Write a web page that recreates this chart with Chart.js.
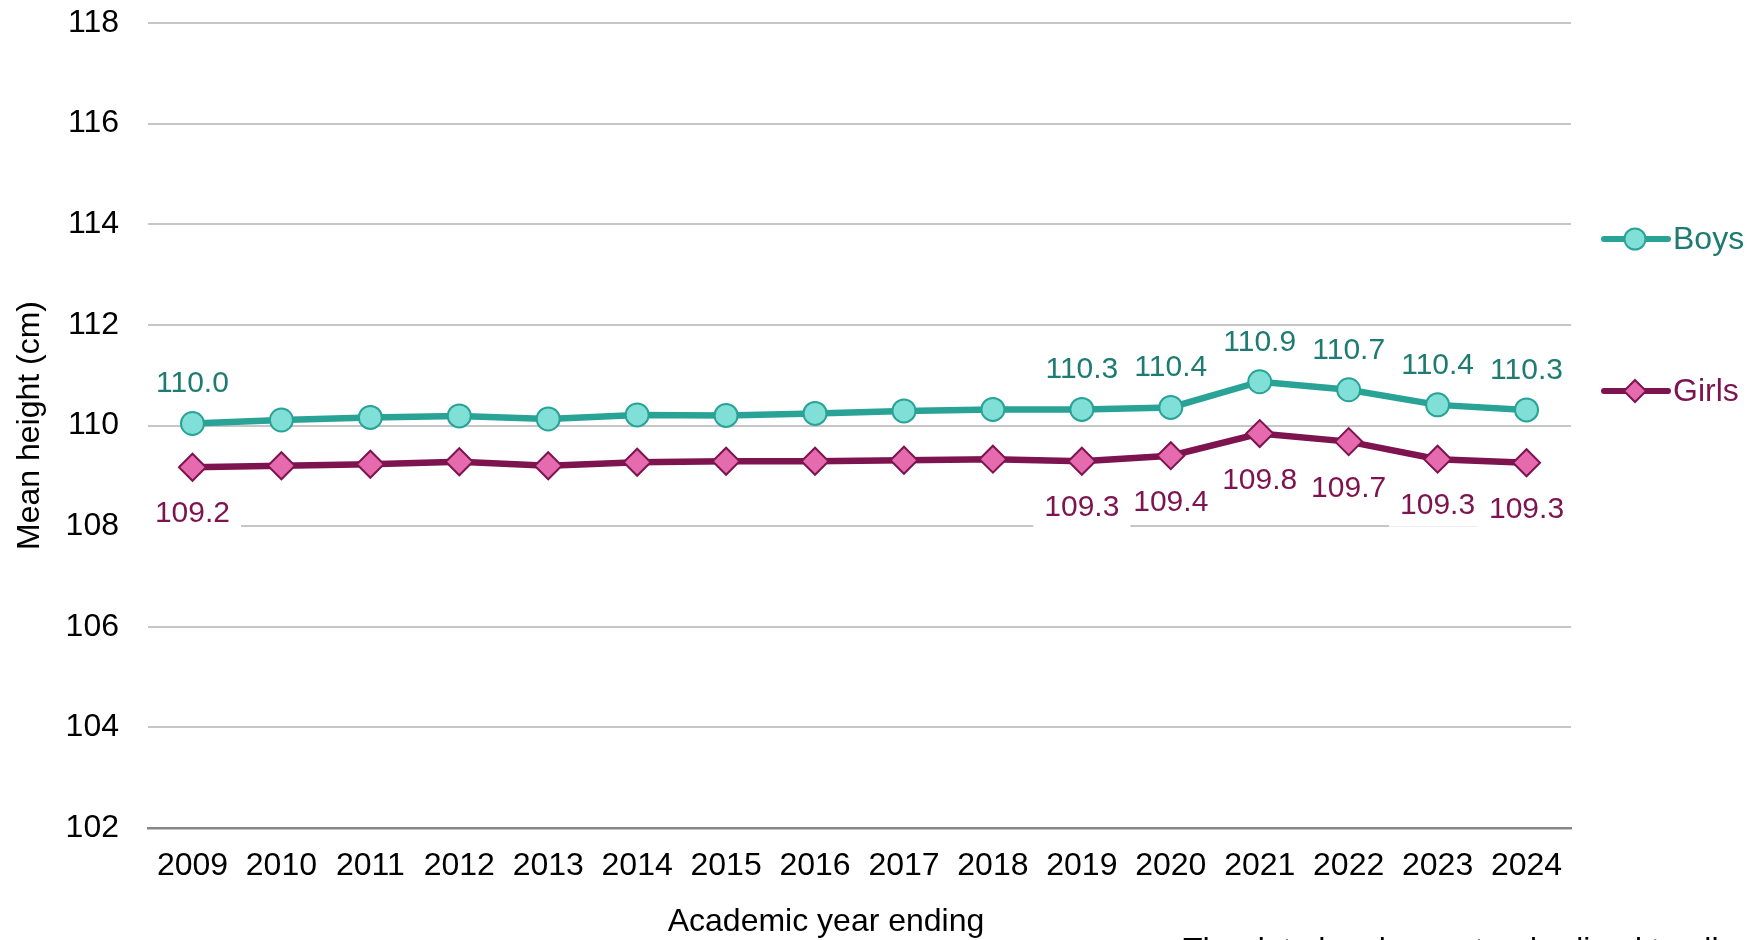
<!DOCTYPE html>
<html>
<head>
<meta charset="utf-8">
<script src="https://cdn.jsdelivr.net/npm/chart.js@4/dist/chart.umd.min.js"></script>
<style>
html,body{margin:0;padding:0;background:#fff;}
#wrap{width:1747px;height:940px;position:relative;}
</style>
</head>
<body>
<div id="wrap"><canvas id="c" width="1747" height="940"></canvas></div>
<script>
// ---- data ----
const years = ['2009','2010','2011','2012','2013','2014','2015','2016','2017','2018','2019','2020','2021','2022','2023','2024'];
const boys  = [110.04,110.11,110.16,110.19,110.13,110.21,110.20,110.24,110.29,110.32,110.32,110.36,110.87,110.71,110.41,110.31];
const girls = [109.17,109.20,109.23,109.28,109.20,109.27,109.29,109.29,109.31,109.33,109.29,109.40,109.84,109.68,109.33,109.26];
const labelledYears = ['2009','2019','2020','2021','2022','2023','2024'];
const seriesNames = ['Boys','Girls'];
const yTitle = 'Mean height (cm)';
const xTitle = 'Academic year ending';
const footnote = 'The data has been standardised to allow comparison';

const FONT = '"Liberation Sans", Arial, sans-serif';
const BOYS_LINE = '#28a396', BOYS_FILL = '#80e0d8', BOYS_TEXT = '#1d7b71';
const GIRLS_LINE = '#7d144f', GIRLS_FILL = '#e66aae', GIRLS_TEXT = '#7d144f';

const labelPlugin = {
  id: 'valueLabels',
  _items(chart) {
    const items = [];
    chart.data.datasets.forEach((ds, di) => {
      const meta = chart.getDatasetMeta(di);
      chart.data.labels.forEach((lab, i) => {
        if (!labelledYears.includes(lab)) return;
        const pt = meta.data[i];
        const above = ds.labelPos === 'above';
        const baseline = above ? pt.y - 31 : pt.y + 55;
        items.push({x: pt.x, baseline, text: ds.data[i].toFixed(1), color: ds.labelColor});
      });
    });
    return items;
  },
  beforeDatasetsDraw(chart) {
    const ctx = chart.ctx;
    ctx.save();
    ctx.font = '30px ' + FONT;
    this._items(chart).forEach(it => {
      const w = ctx.measureText(it.text).width;
      ctx.fillStyle = '#ffffff';
      ctx.fillRect(it.x - w / 2 - 11, it.baseline - 23, w + 22, 35.5);
    });
    ctx.restore();
  },
  afterDatasetsDraw(chart) {
    const ctx = chart.ctx;
    ctx.save();
    ctx.font = '30px ' + FONT;
    ctx.textAlign = 'center';
    ctx.textBaseline = 'alphabetic';
    this._items(chart).forEach(it => {
      ctx.fillStyle = it.color;
      ctx.fillText(it.text, it.x, it.baseline);
    });
    ctx.restore();
  }
};

const extrasPlugin = {
  id: 'extras',
  afterDraw(chart) {
    const ctx = chart.ctx;
    ctx.save();
    // x axis title
    ctx.font = '32px ' + FONT;
    ctx.fillStyle = '#000';
    ctx.textAlign = 'center';
    ctx.textBaseline = 'middle';
    ctx.fillText(xTitle, 826, 922);
    // cut-off footnote
    ctx.textAlign = 'left';
    ctx.textBaseline = 'alphabetic';
    ctx.fillText(footnote, 1183, 960);
    // legend
    const rows = [239, 391];
    chart.data.datasets.forEach((ds, di) => {
      const y = rows[di];
      ctx.strokeStyle = ds.borderColor;
      ctx.lineWidth = 6;
      ctx.lineCap = 'round';
      ctx.beginPath();
      ctx.moveTo(1604, y);
      ctx.lineTo(1668, y);
      ctx.stroke();
      ctx.fillStyle = ds.pointBackgroundColor;
      ctx.strokeStyle = ds.pointBorderColor;
      ctx.lineWidth = 2;
      ctx.beginPath();
      if (ds.pointStyle === 'circle') {
        ctx.arc(1635, y, 10.5, 0, Math.PI * 2);
      } else {
        const r = 11;
        ctx.moveTo(1635, y - r); ctx.lineTo(1635 + r, y);
        ctx.lineTo(1635, y + r); ctx.lineTo(1635 - r, y); ctx.closePath();
      }
      ctx.fill();
      ctx.stroke();
      ctx.font = '32px ' + FONT;
      ctx.fillStyle = ds.labelColor;
      ctx.textAlign = 'left';
      ctx.textBaseline = 'middle';
      ctx.fillText(ds.label, 1673, y + 1);
    });
    ctx.restore();
  }
};

new Chart(document.getElementById('c'), {
  type: 'line',
  data: {
    labels: years,
    datasets: [
      {
        label: seriesNames[0], data: boys,
        borderColor: BOYS_LINE, borderWidth: 6.5,
        pointStyle: 'circle', pointRadius: 11.5, pointHoverRadius: 11.5,
        pointBackgroundColor: BOYS_FILL, pointBorderColor: BOYS_LINE, pointBorderWidth: 2,
        labelColor: BOYS_TEXT, labelPos: 'above', tension: 0
      },
      {
        label: seriesNames[1], data: girls,
        borderColor: GIRLS_LINE, borderWidth: 6.5,
        pointStyle: 'rectRot', pointRadius: 13.5, pointHoverRadius: 13.5,
        pointBackgroundColor: GIRLS_FILL, pointBorderColor: GIRLS_LINE, pointBorderWidth: 2,
        labelColor: GIRLS_TEXT, labelPos: 'below', tension: 0
      }
    ]
  },
  options: {
    responsive: false,
    animation: false,
    layout: { padding: { left: 0, right: 176, top: 23, bottom: 0 } },
    plugins: { legend: { display: false }, tooltip: { enabled: false } },
    scales: {
      x: {
        offset: true,
        grid: { display: false, drawTicks: false },
        border: { display: true, color: '#878787', width: 2.5 },
        ticks: { padding: 19, color: '#000', font: { size: 32, family: FONT }, maxRotation: 0, autoSkip: false },
        afterFit(s) { s.height = 112; s.paddingLeft = 0; s.paddingRight = 0; }
      },
      y: {
        min: 102, max: 118,
        grid: { color: '#c6c6c6', lineWidth: 2, drawTicks: false },
        border: { display: false },
        ticks: { stepSize: 2, padding: 29, color: '#000', font: { size: 32, family: FONT } },
        title: { display: true, text: yTitle, color: '#000', font: { size: 32, family: FONT }, padding: { top: 11, bottom: 0 } },
        afterFit(s) { s.width = 148; s.paddingTop = 0; s.paddingBottom = 0; }
      }
    }
  },
  plugins: [labelPlugin, extrasPlugin]
});
</script>
</body>
</html>
